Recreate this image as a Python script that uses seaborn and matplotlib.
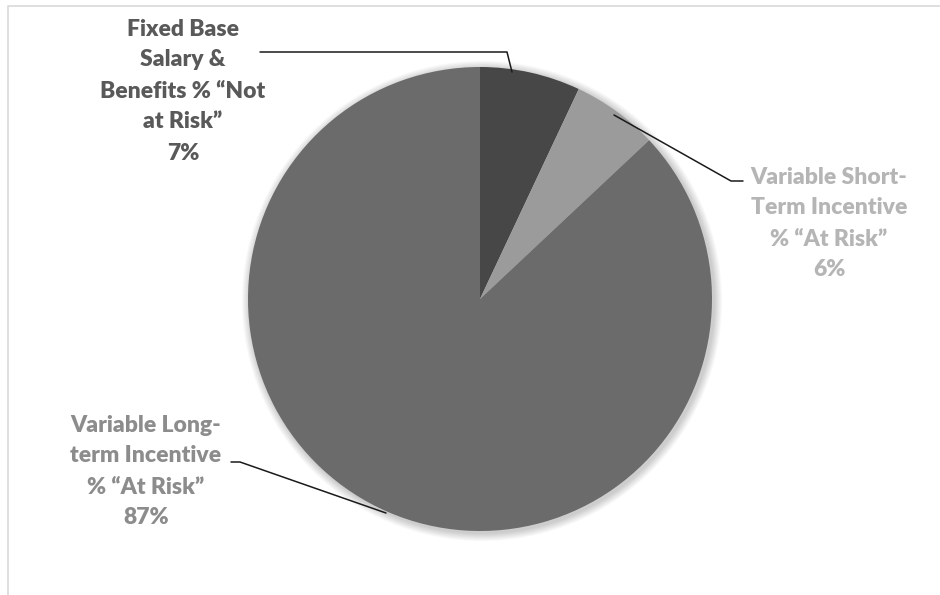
import numpy as np
import matplotlib
matplotlib.use("Agg")
import matplotlib.pyplot as plt
import seaborn as sns
from matplotlib.patches import Circle

# Executive pay mix pie

labels = ["Fixed Base\nSalary &\nBenefits % \u201cNot\nat Risk\u201d",
          "Variable Short-\nTerm Incentive\n% \u201cAt Risk\u201d",
          "Variable Long-\nterm Incentive\n% \u201cAt Risk\u201d"]
values = [7, 6, 87]
slice_colors = ["#474747", "#9b9b9b", "#6b6b6b"]
label_colors = ["#595959", "#b5b5b5", "#8c8c8c"]

sns.set_theme(style="white")
plt.rcParams["font.family"] = ["Lato", "DejaVu Sans"]

W, H = 940, 595
fig = plt.figure(figsize=(W / 100, H / 100), dpi=100)
ax = fig.add_axes([0, 0, 1, 1])
ax.set_xlim(0, W)
ax.set_ylim(0, H)
ax.set_aspect("equal")
ax.axis("off")

cx, cy, r = 480, H - 299, 232

# soft shadow behind the pie
for i in range(10):
    ax.add_patch(Circle((cx + 2, cy - 2), r + 1 + i * 0.8, color="black",
                        alpha=0.018, lw=0, zorder=0))

ax.pie(values, colors=slice_colors, startangle=90, counterclock=False,
       center=(cx, cy), radius=r, frame=True,
       wedgeprops=dict(linewidth=0, zorder=1))
ax.set_xlim(0, W)
ax.set_ylim(0, H)
ax.axis("off")

# chart frame
ax.plot([8, 8, W], [0, H - 6, H - 6], color="#d9d9d9", lw=1.2, zorder=0)

# labels, one line at a time so the line pitch matches (~31 px)
pct = [f"{v}%" for v in values]
text_pos = [(183, 27), (829, 175), (146, 423)]
step = 31
for lab, p, col, (tx, ty) in zip(labels, pct, label_colors, text_pos):
    for k, line in enumerate((lab + "\n" + p).split("\n")):
        ax.text(tx, H - (ty + k * step), line, ha="center", va="center_baseline",
                color=col, fontsize=16.5, fontweight="heavy")

# leader lines
lc = "#1a1a1a"
ax.plot([260, 507, 512], [H - 52, H - 52, H - 72], color=lc, lw=1.1)
ax.plot([614, 731, 743], [H - 115, H - 181, H - 181], color=lc, lw=1.1)
ax.plot([231, 240, 386], [H - 462, H - 462, H - 513], color=lc, lw=1.1)

fig.savefig("out.png", dpi=100)
